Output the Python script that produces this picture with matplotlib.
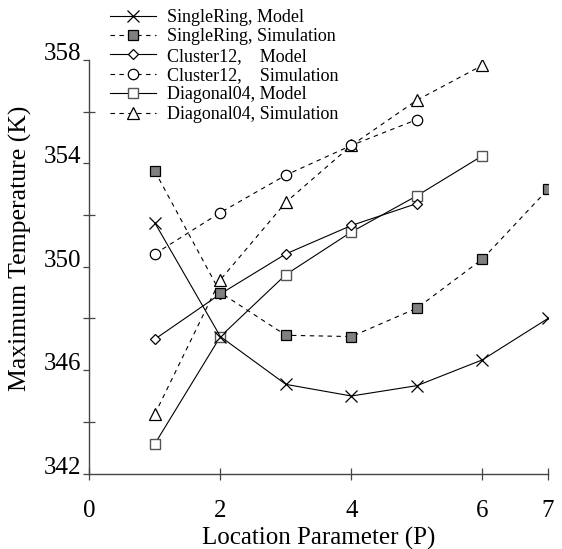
import matplotlib
matplotlib.use("Agg")
import matplotlib.pyplot as plt

plt.rcParams['font.family'] = ['Liberation Serif', 'DejaVu Serif']

# location parameter P
p_all = [1, 2, 3, 4, 5, 6, 7]
p_c12 = [1, 2, 3, 4, 5]
p_d04 = [1, 2, 3, 4, 5, 6]

# maximum temperature (K)
sr_model = [351.7, 347.3, 345.45, 345.0, 345.4, 346.4, 348.0]
sr_sim = [353.7, 349.0, 347.35, 347.3, 348.4, 350.3, 353.0]
c12_model = [347.2, 348.95, 350.5, 351.6, 352.45]
c12_sim = [350.5, 352.1, 353.55, 354.7, 355.7]
d04_model = [343.15, 347.3, 349.7, 351.35, 352.75, 354.3]
d04_sim = [344.3, 349.5, 352.5, 354.7, 356.45, 357.8]

labels = ['SingleRing, Model', 'SingleRing, Simulation',
          'Cluster12,    Model', 'Cluster12,    Simulation',
          'Diagonal04, Model', 'Diagonal04, Simulation']

fig = plt.figure(figsize=(5.62, 5.49), dpi=100)
ax = fig.add_axes([0.159, 0.1375, 0.816, 0.753])

dash = (0, (4, 4))
lw = 0.8

ax.plot(p_all, sr_model, color='black', lw=lw, marker='x', ms=8, mew=0.9,
        label=labels[0], zorder=5)
ax.plot(p_all, sr_sim, color='black', lw=lw, ls=dash, marker='s', ms=7.5,
        mfc='#808080', mec='black', mew=0.9, label=labels[1], zorder=6)
ax.plot(p_c12, c12_model, color='black', lw=lw, marker='D', ms=5.6,
        mfc='white', mec='black', mew=0.9, label=labels[2], zorder=4)
ax.plot(p_c12, c12_sim, color='black', lw=lw, ls=dash, marker='o', ms=7.5,
        mfc='white', mec='black', mew=0.9, label=labels[3], zorder=4)
ax.plot(p_d04, d04_model, color='black', lw=lw, marker='s', ms=7.5,
        mfc='white', mec='#555555', mew=1.0, label=labels[4], zorder=3)
ax.plot(p_d04, d04_sim, color='black', lw=lw, ls=dash, marker='^', ms=8,
        mfc='white', mec='black', mew=0.9, label=labels[5], zorder=3)

ax.set_xlim(0, 7)
ax.set_ylim(342, 358)
ax.set_xticks([0, 2, 4, 6, 7])
ax.set_yticks([342, 346, 350, 354, 358])
ax.set_yticks([344, 348, 352, 356], minor=True)

for s in ['top', 'right']:
    ax.spines[s].set_visible(False)
for s in ['left', 'bottom']:
    ax.spines[s].set_color('#444444')
    ax.spines[s].set_linewidth(1.0)

ax.tick_params(axis='x', direction='inout', length=8, width=0.9,
               color='#444444', labelsize=18, pad=15)
ax.tick_params(axis='y', which='major', direction='out', length=4,
               width=0.9, color='#444444', labelsize=18, pad=2)
ax.tick_params(axis='y', which='minor', direction='inout', length=8,
               width=0.9, color='#444444')
for t in ax.get_yticklabels():
    t.set_verticalalignment('baseline')

ax.set_xlabel('Location Parameter (P)', fontsize=18)
ax.set_ylabel('Maximum Temperature (K)', fontsize=18.5)
ax.xaxis.set_label_coords(0.5, -0.128)
ax.yaxis.set_label_coords(-0.125, 0.545)

ax.legend(loc='upper left', bbox_to_anchor=(0.19, 0.99),
          bbox_transform=fig.transFigure, frameon=False, fontsize=13,
          handlelength=2.5, handletextpad=0.65, labelspacing=0.13,
          borderpad=0.2, borderaxespad=0)

fig.savefig('out.png', dpi=100)
